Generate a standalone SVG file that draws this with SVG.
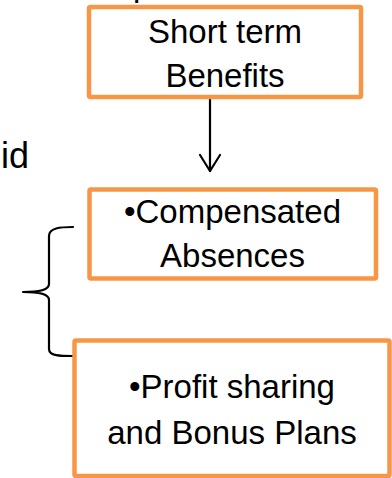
<svg xmlns="http://www.w3.org/2000/svg" width="392" height="478" viewBox="0 0 392 478">
<style>
.box{fill:#FFFFFF;stroke:#F79646;stroke-width:4.5;}
.t{font-family:"Liberation Sans",Arial,sans-serif;font-size:33px;fill:#000000;}
.c{text-anchor:middle;}
.ln{fill:none;stroke:#000000;stroke-width:2.2;stroke-linecap:round;stroke-linejoin:round;}
</style>
<rect width="392" height="478" fill="#FFFFFF"/>
<text class="t" x="133" y="-4">p</text>
<text class="t" x="1" y="168" style="font-size:36px">id</text>
<g id="connectors">
<line class="ln" x1="210" y1="99" x2="210" y2="171"/>
<polyline class="ln" points="200,155 210,171 220,155"/>
<path class="ln" d="M73,227 C60,227 49,228 49,236 L49,284 C49,290 40,292 23,292 C40,292 49,294 49,300 L49,349 C49,356 60,356 73,356"/>
</g>
<g id="node-short-term">
<rect class="box" x="89" y="7" width="272" height="90" rx="1.5"/>
<text class="t c" x="225" y="43">Short term</text>
<text class="t c" x="225" y="87">Benefits</text>
</g>
<g id="node-compensated">
<rect class="box" x="89.5" y="189.5" width="286.5" height="89" rx="1.5"/>
<text class="t c" x="232.5" y="223">•Compensated</text>
<text class="t c" x="232.5" y="267">Absences</text>
</g>
<g id="node-profit">
<rect class="box" x="74.5" y="340.5" width="315" height="135.5" rx="1.5"/>
<text class="t c" x="232" y="398">•Profit sharing</text>
<text class="t c" x="232" y="444">and Bonus Plans</text>
</g>
</svg>
